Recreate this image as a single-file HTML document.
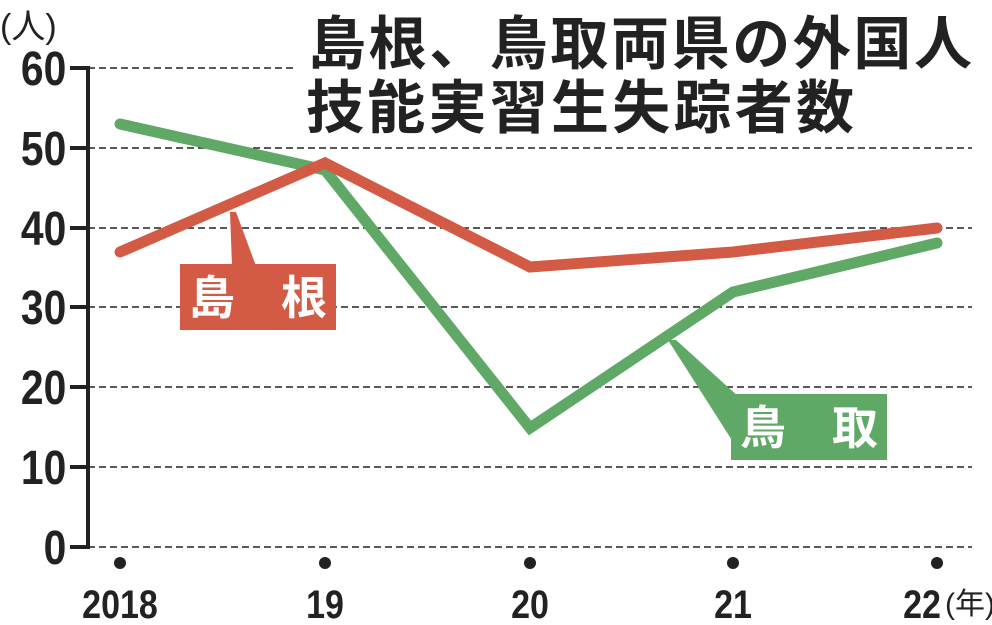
<!DOCTYPE html>
<html><head><meta charset="utf-8"><style>
html,body{margin:0;padding:0;background:#fff;}
svg{display:block;}
text{font-family:"Liberation Sans","Noto Sans CJK JP",sans-serif;}
</style></head><body>
<svg width="992" height="625" viewBox="0 0 992 625" xmlns="http://www.w3.org/2000/svg">
<g stroke="#222" stroke-width="1.6" stroke-dasharray="7,4">
<line x1="88" y1="68" x2="296" y2="68"/>
<line x1="88" y1="148" x2="972" y2="148"/>
<line x1="88" y1="228" x2="972" y2="228"/>
<line x1="88" y1="307" x2="972" y2="307"/>
<line x1="88" y1="387" x2="972" y2="387"/>
<line x1="88" y1="467" x2="972" y2="467"/>
<line x1="88" y1="547" x2="972" y2="547"/>
</g>
<g stroke="#222" stroke-width="4">
<line x1="88" y1="66" x2="88" y2="549"/>
<line x1="70" y1="68" x2="88" y2="68"/>
<line x1="70" y1="148" x2="88" y2="148"/>
<line x1="70" y1="228" x2="88" y2="228"/>
<line x1="70" y1="307" x2="88" y2="307"/>
<line x1="70" y1="387" x2="88" y2="387"/>
<line x1="70" y1="467" x2="88" y2="467"/>
<line x1="70" y1="547" x2="88" y2="547"/>
</g>
<g font-size="48" fill="#222" text-anchor="end" font-weight="bold" transform="scale(0.85,1)">
<text x="78" y="85">60</text><text x="78" y="165">50</text><text x="78" y="245">40</text>
<text x="78" y="324">30</text><text x="78" y="404">20</text><text x="78" y="484">10</text><text x="78" y="564">0</text>
</g>
<text x="0" y="38" font-size="34" fill="#222">(人)</text>
<g fill="#222">
<circle cx="120" cy="563" r="6"/><circle cx="325" cy="563" r="6"/><circle cx="530" cy="563" r="6"/><circle cx="733" cy="563" r="6"/><circle cx="937" cy="563" r="6"/>
</g>
<g font-size="40" fill="#222" text-anchor="middle" font-weight="bold">
<text x="120" y="618" transform="translate(120,0) scale(0.85,1) translate(-120,0)">2018</text>
<text x="325" y="618" transform="translate(325,0) scale(0.85,1) translate(-325,0)">19</text>
<text x="530" y="618" transform="translate(530,0) scale(0.85,1) translate(-530,0)">20</text>
<text x="733" y="618" transform="translate(733,0) scale(0.85,1) translate(-733,0)">21</text>
<text x="922" y="618" transform="translate(922,0) scale(0.85,1) translate(-922,0)">22</text>
</g>
<text x="945" y="614" font-size="30" fill="#222">(年)</text>
<polyline points="120,124 325,170 530,428 733,292 937,243" fill="none" stroke="#5fa865" stroke-width="11" stroke-linejoin="miter" stroke-linecap="round"/>
<polyline points="120,252 325,163 530,267 733,252 937,228" fill="none" stroke="#d35a44" stroke-width="11" stroke-linejoin="miter" stroke-linecap="round"/>
<polygon points="230,212 236,212 256,266 232,266" fill="#d35a44"/>
<rect x="180" y="264" width="156" height="66" fill="#d35a44"/>
<text x="258" y="314" font-size="46" fill="#fff" font-weight="bold" text-anchor="middle">島　根</text>
<polygon points="668,340 676,340 740,398 735,445" fill="#5fa865"/>
<rect x="731" y="394" width="156" height="66" fill="#5fa865"/>
<text x="809" y="444" font-size="46" fill="#fff" font-weight="bold" text-anchor="middle">鳥　取</text>
<rect x="300" y="0" width="680" height="135" fill="#fff"/>
<text x="308" y="64" font-size="58" fill="#222" font-weight="bold" textLength="664">島根、鳥取両県の外国人</text>
<text x="306" y="128" font-size="58" fill="#222" font-weight="bold" textLength="548">技能実習生失踪者数</text>
</svg>
</body></html>
